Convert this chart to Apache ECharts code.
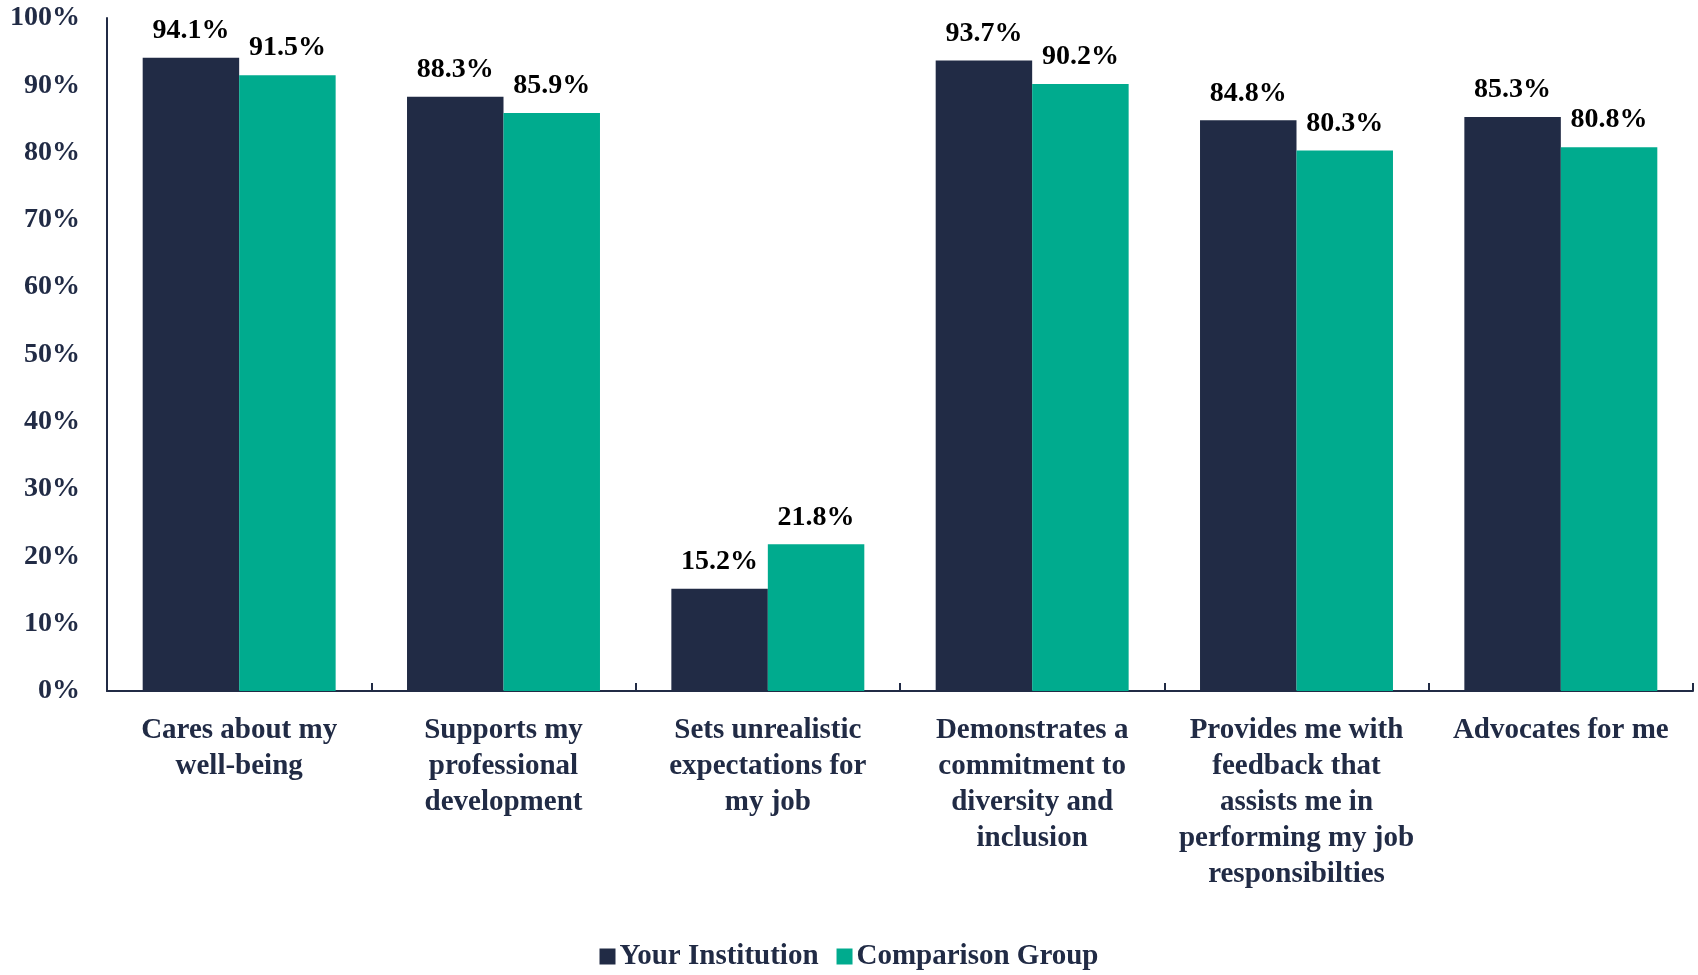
<!DOCTYPE html>
<html>
<head>
<meta charset="utf-8">
<script src="https://cdn.jsdelivr.net/npm/echarts@6/dist/echarts.min.js"></script>
<style>html,body{margin:0;padding:0;background:#fff}#c{width:1698px;height:975px}</style>
</head>
<body>
<div id="c"></div>
<script>
const categories = [
  "Cares about my\nwell-being",
  "Supports my\nprofessional\ndevelopment",
  "Sets unrealistic\nexpectations for\nmy job",
  "Demonstrates a\ncommitment to\ndiversity and\ninclusion",
  "Provides me with\nfeedback that\nassists me in\nperforming my job\nresponsibilties",
  "Advocates for me"
];
const yourInstitution = [94.1, 88.3, 15.2, 93.7, 84.8, 85.3];
const comparisonGroup = [91.5, 85.9, 21.8, 90.2, 80.3, 80.8];
const seriesNames = ["Your Institution", "Comparison Group"];

const FONT = "'Liberation Serif', 'DejaVu Serif', serif";
const NAVY = "#212B45";
const TEAL = "#00AB8E";

const chart = echarts.init(document.getElementById('c'));
const labelOpt = {
  show: true, position: 'top', distance: 13,
  formatter: p => p.value.toFixed(1) + '%',
  fontFamily: FONT, fontSize: 28, fontWeight: 'bold', color: '#000'
};
chart.setOption({
  animation: false,
  textStyle: { fontFamily: FONT },
  grid: { left: 107, right: 5, top: 18, bottom: 284, containLabel: false },
  legend: {
    bottom: -1, left: 'center',
    itemWidth: 16, itemHeight: 16, itemGap: 18,
    icon: 'rect',
    textStyle: { fontFamily: FONT, fontSize: 29, fontWeight: 'bold', color: NAVY, padding: [0, 0, 0, -1] },
    data: seriesNames
  },
  xAxis: {
    type: 'category',
    data: categories,
    axisLine: { lineStyle: { color: NAVY, width: 2 } },
    axisTick: { show: true, inside: true, length: 8, lineStyle: { color: NAVY, width: 2 } },
    axisLabel: {
      interval: 0, margin: 22, lineHeight: 36,
      fontFamily: FONT, fontSize: 29, fontWeight: 'bold', color: NAVY, align: 'center'
    }
  },
  yAxis: {
    type: 'value', min: 0, max: 100, interval: 10,
    axisLine: { show: true, lineStyle: { color: NAVY, width: 2 } },
    axisTick: { show: false },
    splitLine: { show: false },
    axisLabel: {
      formatter: '{value}%', margin: 27,
      fontFamily: FONT, fontSize: 28, fontWeight: 'bold', color: NAVY
    }
  },
  series: [
    { name: seriesNames[0], type: 'bar', data: yourInstitution, barGap: '0%', barCategoryGap: '27%',
      itemStyle: { color: NAVY }, label: labelOpt },
    { name: seriesNames[1], type: 'bar', data: comparisonGroup,
      itemStyle: { color: TEAL }, label: labelOpt }
  ]
});
</script>
</body>
</html>
